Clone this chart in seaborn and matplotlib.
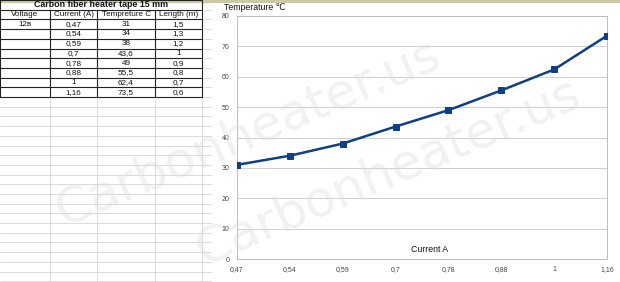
import matplotlib
matplotlib.use("Agg")
import matplotlib.pyplot as plt
import seaborn as sns
import pandas as pd

sns.set_theme(style="white")
plt.rcParams['font.family'] = ['Liberation Sans', 'DejaVu Sans']

# ---- data ----
title = "Carbon fiber heater tape 15 mm"
headers = ["Voltage", "Current (A)", "Tempreture C", "Length (m)"]
voltage = "12в"
current_labels = ["0,47", "0,54", "0,59", "0,7", "0,78", "0,88", "1", "1,16"]
temperatures = [31, 34, 38, 43.6, 49, 55.5, 62.4, 73.5]
temp_labels = ["31", "34", "38", "43,6", "49", "55,5", "62,4", "73,5"]
length_labels = ["1,5", "1,3", "1,2", "1", "0,9", "0,8", "0,7", "0,6"]
y_ticks = [0, 10, 20, 30, 40, 50, 60, 70, 80]
watermark = "Carbonheater.us"

W, H = 620, 282
fig = plt.figure(figsize=(W / 100, H / 100), dpi=100)
fig.patch.set_facecolor("white")

# ---- spreadsheet background ----
bg = fig.add_axes([0, 0, 1, 1])
bg.set_xlim(0, W)
bg.set_ylim(H, 0)
bg.axis("off")

col_x = [0, 50, 97, 155, 202]
row_h = 9.7
grid_c = "#d4d4d4"
y = 0.0
while y < H:
    bg.plot([0, 212], [y, y], color=grid_c, lw=0.6, zorder=1)
    y += row_h
for cx in col_x[1:]:
    bg.plot([cx, cx], [0, H], color=grid_c, lw=0.6, zorder=1)
bg.plot([0, W], [1, 1], color="#c9c9a9", lw=2.5, zorder=1)

n_rows = 2 + len(current_labels)
tb = n_rows * row_h
for i in range(n_rows + 1):
    bg.plot([0, 202], [i * row_h, i * row_h], color="#222222", lw=0.8, zorder=2)
for cx in col_x:
    bg.plot([cx, cx], [row_h if cx not in (0, 202) else 0, tb], color="#222222", lw=0.8, zorder=2)
fs = 5.9
bg.text(101, row_h * 0.5, title, ha="center", va="center", fontsize=6.4,
        fontweight="bold", color="#111111", zorder=3)
for j, h in enumerate(headers):
    bg.text((col_x[j] + col_x[j + 1]) / 2, row_h * 1.5, h, ha="center",
            va="center", fontsize=fs, color="#111111", zorder=3)
bg.text(25, row_h * 2.5, voltage, ha="center", va="center", fontsize=fs,
        color="#111111", zorder=3)
for i, (c, t, l) in enumerate(zip(current_labels, temp_labels, length_labels)):
    yy = row_h * (2.5 + i)
    for j, v in zip((1, 2, 3), (c, t, l)):
        bg.text((col_x[j] + col_x[j + 1]) / 2, yy, v, ha="center", va="center",
                fontsize=fs, color="#111111", zorder=3)

bg.add_patch(plt.Rectangle((212, 3), W - 212, H - 3, facecolor="white",
                           edgecolor="none", zorder=4))

# ---- chart ----
ax = fig.add_axes([237 / W, 1 - 259 / H, 370 / W, 243 / H])
ax.set_facecolor("none")
df = pd.DataFrame({"idx": range(len(current_labels)), "temp": temperatures})
sns.lineplot(data=df, x="idx", y="temp", ax=ax, color="#0e3f87", lw=1.8,
             marker="s", markersize=4.8, markeredgecolor="#0e3f87", zorder=5)
ax.set_xlim(0, len(current_labels) - 1)
ax.set_ylim(0, 80)
ax.set_yticks(y_ticks)
ax.set_yticklabels([str(v) for v in y_ticks])
ax.set_xticks(range(len(current_labels)))
ax.set_xticklabels(current_labels)
ax.tick_params(axis="both", labelsize=5, colors="#444444", length=2, width=0.5)
ax.tick_params(axis="x", pad=3)
ax.yaxis.grid(True, color="#cfcfcf", lw=0.7)
for s in ax.spines.values():
    s.set_color("#bdbdbd")
    s.set_linewidth(0.7)
ax.set_xlabel("")
ax.set_ylabel("")
fig.text(224 / W, 1 - 8 / H, "Temperature ℃", fontsize=6.3, color="#111111",
         ha="left", va="center")
fig.text(430 / W, 1 - 249 / H, "Current A", fontsize=6.3, color="#111111",
         ha="center", va="center")

for (wx, wy) in [(248 / W, 1 - 133 / H), (388 / W, 1 - 172 / H)]:
    fig.text(wx, wy, watermark, fontsize=36, color="#dcdcdc", alpha=0.4,
             rotation=23, ha="center", va="center", zorder=10,
             family=["DejaVu Sans"])

fig.savefig("out.png", dpi=100, facecolor="white")
